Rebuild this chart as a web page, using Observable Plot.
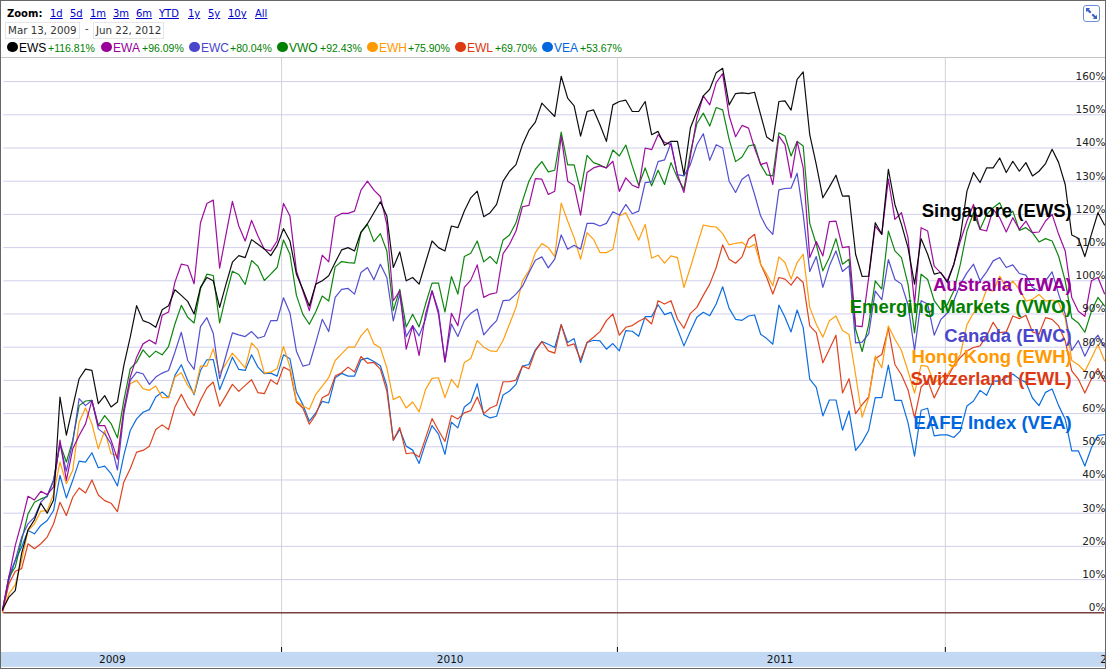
<!DOCTYPE html>
<html>
<head>
<meta charset="utf-8">
<script src="https://cdn.jsdelivr.net/npm/d3@7"></script>
<script src="https://cdn.jsdelivr.net/npm/@observablehq/plot@0.6"></script>
<style>
html,body{margin:0;padding:0;background:#fff;}
#page{position:relative;width:1106px;height:669px;overflow:hidden;font-family:"DejaVu Sans",sans-serif;background:#fff;}
#page .h{position:absolute;white-space:nowrap;}
#zoomLabel{left:7px;top:8px;font-size:10px;font-weight:bold;color:#000;}
.zl{top:8px;font-size:10px;color:#0000cc;text-decoration:underline;}
.dbox{top:22px;height:15px;line-height:15px;border:1px solid #e6e6e6;font-size:10.3px;color:#333;padding:0 2px;}
.dot{top:41.5px;width:10.5px;height:10.5px;border-radius:50%;}
.tk{top:41px;font:12px "Liberation Sans",sans-serif;}
.pc{top:42px;font:10.5px "Liberation Sans",sans-serif;color:#008000;}
#chart{position:absolute;left:0;top:57px;}
#sep{position:absolute;left:1px;top:57px;width:1104px;height:1px;background:#c4c4c4;}
#frame{position:absolute;left:0;top:0;width:1106px;height:669px;box-sizing:border-box;border:1.5px solid #666;pointer-events:none;}
#icon{position:absolute;left:1083px;top:5px;width:17px;height:17px;box-sizing:border-box;border:1px solid #6a8fd8;border-radius:3px;background:#fff;}
</style>
</head>
<body>
<div id="page"></div>
<script>
const tickers = ["EWS","EWA","EWC","VWO","EWH","EWL","VEA"];
const finalChange = ["+116.81%","+96.09%","+80.04%","+92.43%","+75.90%","+69.70%","+53.67%"];
const colors = ["#000000","#990099","#4a46cc","#008000","#ff9900","#dc3912","#0066dd"];
const labelNames = ["Singapore (EWS)","Australia (EWA)","Canada (EWC)","Emerging Markets (VWO)","Hong Kong (EWH)","Switzerland (EWL)","EAFE Index (VEA)"];
const labelLevels = [120.9,98.6,83.2,92,76.9,70.3,57];
const labelWeek = 166;
const zoomLinks = ["1d","5d","1m","3m","6m","YTD","1y","5y","10y","All"];
const yTicks = d3.range(0,170,10);
const yearNames = ["2009","2010","2011","2012"];
const yearMidWeeks = [17.2,69.8,121.2,172.4];
const yearTickWeeks = [43.7,95.7,146.7];

const EWS = [1,4.7,6.7,18,25,28,33,30,34,65,
53.5,62,70.5,73.4,73,63,65.4,62,63.5,74.5,
83,92.5,88,87.3,86,91.3,92.5,97.3,95.6,93.8,
90,98,101,100,92,99,105.6,107.6,107,112.4,
111,109.6,107.6,110.6,115.7,112,102,97.4,92.4,99,
100,101.5,105.5,109.3,110,109,114.7,117.2,120.5,123.8,
119.5,104,108.7,100,101,99,105.5,112,110,109,
116.5,116,121,125,127,119.3,120.5,123,130,133,
135,141,145.3,147.8,153.5,151.5,149.5,161.6,155,152.7,
143.6,151,151.5,147,142,153,154,154.4,151,151,
154,144,145,140.8,142,142,132,146,151,155.7,
157.7,162.7,164,153,156.4,156.6,156.4,156.8,150,143.3,
142,154,154.2,151.4,160.7,162.9,144,135,125,128.3,
131.8,125.5,125.6,108,101.3,101.4,117.5,114,133.6,123,
117,110,99,112.7,108,102,102.5,99.5,105,113.5,
127,132.6,129.6,134,134,137,132.6,136,133,135.6,
131.6,133,135.3,139.6,135.6,129,113.8,112.8,107.3,114,
120.5,116.81];

const EWA = [0.7,10.7,20.3,27.3,35.1,34,36.6,35.6,37.9,52,
39.9,49.4,53.4,56.9,63.9,56.4,56.4,52,46.3,61.3,
71,77,81,82.2,81,89.6,90.6,99.6,105,104.6,
99.1,117.5,123.3,124.3,103.8,114,123.9,116.5,112,118.2,
113.5,109.5,109,112,123.3,119.5,103,97,91,99,
107.7,105.7,119.2,120.3,120.3,121,127.3,130,127.3,125.4,
117,94,97,79.4,86.5,77.5,90,97,90,75.6,
90.2,86.5,98,100.2,104.8,95,96,96.4,108.2,111,
115,122.3,122.7,130.8,130.6,126,127,143.6,130,128.7,
119.8,132.6,134,134.6,134,136,126.9,131,128.8,128,
140,139.5,144,141.7,141,132,126.6,137.3,149,155.7,
153,159.7,162.4,149.7,143.4,146.8,146,140,135,135.6,
129,143.6,141,131,142,134,107,111.8,107.5,117.8,
118,110,110.3,86.4,86.2,101,116.5,114,130.6,118.5,
120.5,113,93,116,115,104.4,102.4,100,105,112,
118,123,115.5,115,121.5,119,114.7,119,115.5,118,
114.5,114.7,118,120,114,109,95,90.8,89.3,100,
101,96.09];

const EWC = [0.7,11,15.8,22.8,26.8,28.8,33.3,35.3,39.9,50.9,
42.7,51.4,64.5,62.4,64,55.4,53.9,50.9,43,60,
70,72.5,72,68.8,71,72.2,73,78.5,84.5,76,
73.3,86.2,88.9,84.2,70.5,77.5,84.3,83.7,83.2,84.7,
82.7,83.3,88,88,94.9,90.3,78.8,74.3,74.8,81.4,
88.4,84.7,95,97.4,97.7,96,102.5,104,100.3,105,
101,87.9,96,83.2,86.5,83.4,88.5,97,91,75.6,
87,83.2,88,90.2,91.5,83.7,86,88,94,94.2,
96,98.3,102.4,106.2,107.2,103.9,106.5,113.8,109.5,110.7,
109.5,117.3,117.3,116.5,117.3,120.8,119.8,123,120.2,121,
129.6,129.8,135.9,136.4,141.6,132,131.6,135,141,144.3,
136.3,141,140,130,126.6,130.6,132,126,119.5,116,
114,127.4,127.8,127.9,132.4,120,102.8,107.3,98,104.5,
109,102.8,104.5,81.3,81.5,84,96.9,94.3,106.4,100.4,
99,92.8,79,94,93,83.6,88.3,90.3,94,99,
102.4,105,100,102.7,106,107,104,104.8,102.2,101.7,
98,97,100,102.7,96,90,79,82,77.3,81.3,
83.6,80.04];

const VWO = [0.7,10.7,13.8,21.8,29.8,33.3,34.3,35,39.9,50.9,
45.4,52,62.4,63.8,64,56.4,59.4,57,52.7,64,
73.5,75.5,79.2,77,78.8,77.7,80.2,87,92.6,89,
87.3,97.6,102,101.6,87.3,95.6,102.9,101.9,98.9,106.1,
104.4,100.1,102,104,112.3,108,95.6,89.9,86.9,90.7,
95.4,93.9,104.2,105.8,105.5,105.3,114.5,117,111.8,114.2,
109,91,97.4,86.1,89.9,86.1,93,99.3,99.3,90.6,
101.3,96,107.3,108.3,112,105.7,107.3,105.2,112.3,113.8,
117.5,124,130,133.6,135.9,132.8,133.3,144.8,134.9,134.9,
127,137.8,135.6,134.9,134,139.4,137.6,140.9,134.6,128.8,
134,128.6,133.3,129,135.6,131,127.6,138.6,147.3,150.5,
146.6,152.2,151.5,142.6,135.9,137.3,140.6,141,135,131.9,
131.6,144.6,143.6,137.6,142,140.6,117.3,111,103,107,
112.7,105,106.5,85.4,78.7,86.8,100,97.5,115,109,
107,99,84.3,102,100.4,94,91.3,92.8,97,105,
115,120.5,115.5,120,122,123.5,119,121,115.2,116,
114.5,111.7,112.7,112,107.4,100,88.8,87.3,84.5,90.8,
95,92.43];

const EWH = [0.2,5.7,8.5,15.8,24.8,26.8,30.6,30.8,35.8,45.4,
38.9,42.9,57.4,61.7,56.9,49.4,54.9,47.9,47.4,60.9,
69,70,67.5,67,68.3,64.8,64.8,71,72.3,68.5,
66,74.3,74.3,79.5,72.2,75,78.2,76,73.8,81.3,
79.2,72.2,72.5,73.5,80.2,74,63.8,62.3,61.3,65.8,
68.3,70.8,76,78,80,80,83.4,85.6,81,79.8,
73.8,64.2,65.2,61.7,63.5,60.5,67.3,70.6,70.8,64.8,
70.3,67.8,75.4,76.6,82,80,78.9,78.7,82,87,
92,100,103,108.5,111.2,110,107.3,123.4,118,113,
106.5,114.5,112.5,108.5,108.5,109.5,119.5,120.5,116.5,112.2,
117,106.8,107.7,105.3,107.5,107,98,104,110.5,116.8,
116.4,116.2,114.2,110.8,111.3,111.6,110,111,105,102,
98.5,107.2,105.5,100.5,105.5,108,92,86.9,83,88,
89.4,85,83.8,71.7,58.9,64.7,77.3,73.8,86.4,82.4,
79,72.8,66.2,74.5,74.2,69.2,70.8,71.7,74.7,77.8,
86.8,90.3,91.9,97.4,96.9,101.4,97.9,99.9,97.4,93.9,
94.4,95.9,93.9,94.2,93.4,88.8,76,74.7,72.7,76.7,
80.8,75.90];

const EWL = [0.2,8.7,12.5,13.3,20.8,19.3,20.8,22.8,26.8,33.3,
29.3,34.8,37.6,36.1,40,35.5,33.8,33,30.5,39.4,
43.4,48.4,48.9,50.2,55.2,56.6,55.2,62,65.8,62,
59.4,64,67.7,69.5,62.2,65.5,68.8,66.7,68.5,70.2,
66.3,66,70.2,68.8,74,73,63.5,61.7,56.8,59.7,
64.8,65.8,71.3,72.3,74,72.5,77.2,75.2,75.4,73.4,
66.8,52,55.8,47.9,48.2,46.9,52.6,58.5,54.9,51.6,
59.4,58.4,60.2,60.9,65,60,61.7,62.5,69.6,69.6,
70.1,74.3,73.5,78.9,81.7,78.9,78.2,86.8,80.4,81,
76.2,81.4,83,84.7,88,90,83.6,86,86.5,87.8,
88.8,87,94,93,94,88.5,85.7,90.2,92,95.6,
99,104,110.8,106.5,105.3,107.2,112.5,114,105,101,
96,101,100.5,98.7,101.2,99.5,86.4,84.4,75.3,79.4,
83.6,66.2,70.5,60,62.7,65,76.6,77.8,85.7,74.8,
71.7,67.2,58.7,68,70,64.7,68.8,70.8,74.4,76.9,
78.9,79.9,80.4,83.4,87.5,84.4,84.6,89.4,88.6,89.6,
84.6,83.9,88.9,88.4,86.4,81.9,72.9,70.4,66.2,70.4,
73.6,69.70];

const VEA = [0.4,9.7,15.8,19.8,24.8,23.8,26.3,27.8,30.8,41.4,
34.6,39.9,45.7,45.4,48.2,43.7,44.2,41.9,38.2,47.4,
54.9,58.4,60.4,61.2,65,66.5,64.8,71.5,74.7,70,
65.7,73,76.2,76.3,67.2,72,77,73.3,73,77.7,
74,72,72.2,71.3,77.7,76.5,66.5,62.7,57.7,60.2,
63.7,63.2,70.8,72.1,71.3,71.3,76.2,76.7,75.7,74.4,
68.3,52,55.2,50.2,49,45,51.1,56.4,53.8,47.7,
57.4,55.7,62,63.5,69,59.7,58.7,59.2,65.6,66.8,
68.8,74.3,74.8,79.2,81.7,80.9,79.9,86.8,81.4,82.6,
75.4,81.4,82.1,81.9,79.4,81.1,78.9,85,84.8,83.3,
89.2,89.2,92.8,89.8,90.5,85.5,80.4,84.8,89,90.5,
89.5,93,98.2,91.7,88.4,88.1,89.4,89.7,83.9,82.6,
80.9,92.7,89,84.6,91.2,85.9,70.4,67.9,59.3,64.1,
64.1,55,60.8,48.9,51.4,55,64.8,64.8,74.6,64,
64,57.3,47.2,61,61.6,53.3,53.6,53.6,52.8,54.8,
62.3,63.8,67,65.5,69.8,69.8,70.9,71.9,70.4,69.4,
64.7,62.4,66.4,67.4,62.4,58.3,48.8,48.8,44.2,49.7,
53.4,53.67];

const seriesValues = [EWS,EWA,EWC,VWO,EWH,EWL,VEA];
seriesValues.forEach((s,k)=>{ if(s.length!==172) throw new Error(tickers[k]+" has "+s.length); });

const page = document.getElementById("page");
function add(cls,left,text,style){
  const e=document.createElement("div");
  e.className="h "+cls;
  if(left!==null) e.style.left=left+"px";
  if(text!==null) e.textContent=text;
  if(style) Object.assign(e.style,style);
  page.appendChild(e);
  return e;
}
const zoomLabel=add("",null,"Zoom:"); zoomLabel.id="zoomLabel";
const zoomLefts=[50,70,90,113,136,159,188,208,228,255];
zoomLinks.forEach((t,i)=>add("zl",zoomLefts[i],t));
add("dbox",5,"Mar 13, 2009");
add("",85,"-",{top:"23px",fontSize:"10px",color:"#333"});
add("dbox",93,"Jun 22, 2012");
const dotLefts=[7,101,189,277,367,455,542];
const pctLefts=[48,142,230,320,408,495,580];
tickers.forEach((t,i)=>{
  add("dot",dotLefts[i],null,{background:colors[i]});
  add("tk",dotLefts[i]+12,t,{color:colors[i]});
  add("pc",pctLefts[i],finalChange[i]);
});

const rows = tickers.flatMap((t,k)=>seriesValues[k].map((v,i)=>({ticker:t,week:i,pct:v,order:k})));
const drawOrder = ["VEA","EWL","EWH","VWO","EWC","EWA","EWS"];
const colorOf = Object.fromEntries(tickers.map((t,i)=>[t,colors[i]]));

const chart = Plot.plot({
  width:1106,
  height:612,
  margin:0,
  style:{background:"transparent",overflow:"hidden"},
  x:{type:"linear",domain:[0,44,116,125,171],range:[2,283,748,802.7,1104],axis:null},
  y:{domain:[-17.08,167.26],range:[612,0],axis:null},
  marks:[
    Plot.rect([0],{x1:0,x2:171,y1:-11.93,y2:-16.45,fill:"#c3d9f3",insetLeft:-2,insetRight:-2}),
    Plot.ruleY(yTicks.filter(d=>d>0),{stroke:"#cfcfec",strokeWidth:1,x1:0.2,x2:171}),
    Plot.ruleX(yearTickWeeks,{y1:-10.45,y2:167.26,stroke:"#d2d2d2",strokeWidth:1}),
    Plot.ruleX(yearTickWeeks,{y1:-10.45,y2:-11.93,stroke:"#000",strokeWidth:1}),
    Plot.ruleY([0],{x1:0.2,x2:171,stroke:"#7a3f3f",strokeWidth:1.5}),
    ...drawOrder.map(t=>Plot.line(rows.filter(r=>r.ticker===t),{x:"week",y:"pct",stroke:colorOf[t],strokeWidth:1.2,strokeOpacity:0.95})),
    Plot.axisY(yTicks,{anchor:"right",tickSize:0,textAnchor:"end",dx:-10,dy:-5,tickFormat:d=>d+"%",fill:"#222",fontFamily:"DejaVu Sans",fontSize:10.5,label:null}),
    Plot.text(yearNames,{x:(d,i)=>yearMidWeeks[i],y:-14.2,text:d=>d,fill:"#111",fontFamily:"DejaVu Sans",fontSize:10.5}),
    Plot.text(labelNames,{x:()=>labelWeek,y:(d,i)=>labelLevels[i],text:d=>d,fill:(d,i)=>colors[i],textAnchor:"end",fontFamily:"Liberation Sans",fontWeight:"bold",fontSize:18.5})
  ]
});
const holder=document.createElement("div");
holder.id="chart";
holder.appendChild(chart);
page.appendChild(holder);

const sep=document.createElement("div"); sep.id="sep"; page.appendChild(sep);
const icon=document.createElement("div"); icon.id="icon";
icon.innerHTML='<svg width="15" height="15" viewBox="0 0 15 15"><path d="M2 2 L6 2 L5 3.5 L7.5 6 L6 7.5 L3.5 5 L2 6 Z M13 13 L9 13 L10 11.5 L7.5 9 L9 7.5 L11.5 10 L13 9 Z" fill="#3f62c4"/></svg>';
page.appendChild(icon);
const frame=document.createElement("div"); frame.id="frame"; page.appendChild(frame);
</script>
</body>
</html>
